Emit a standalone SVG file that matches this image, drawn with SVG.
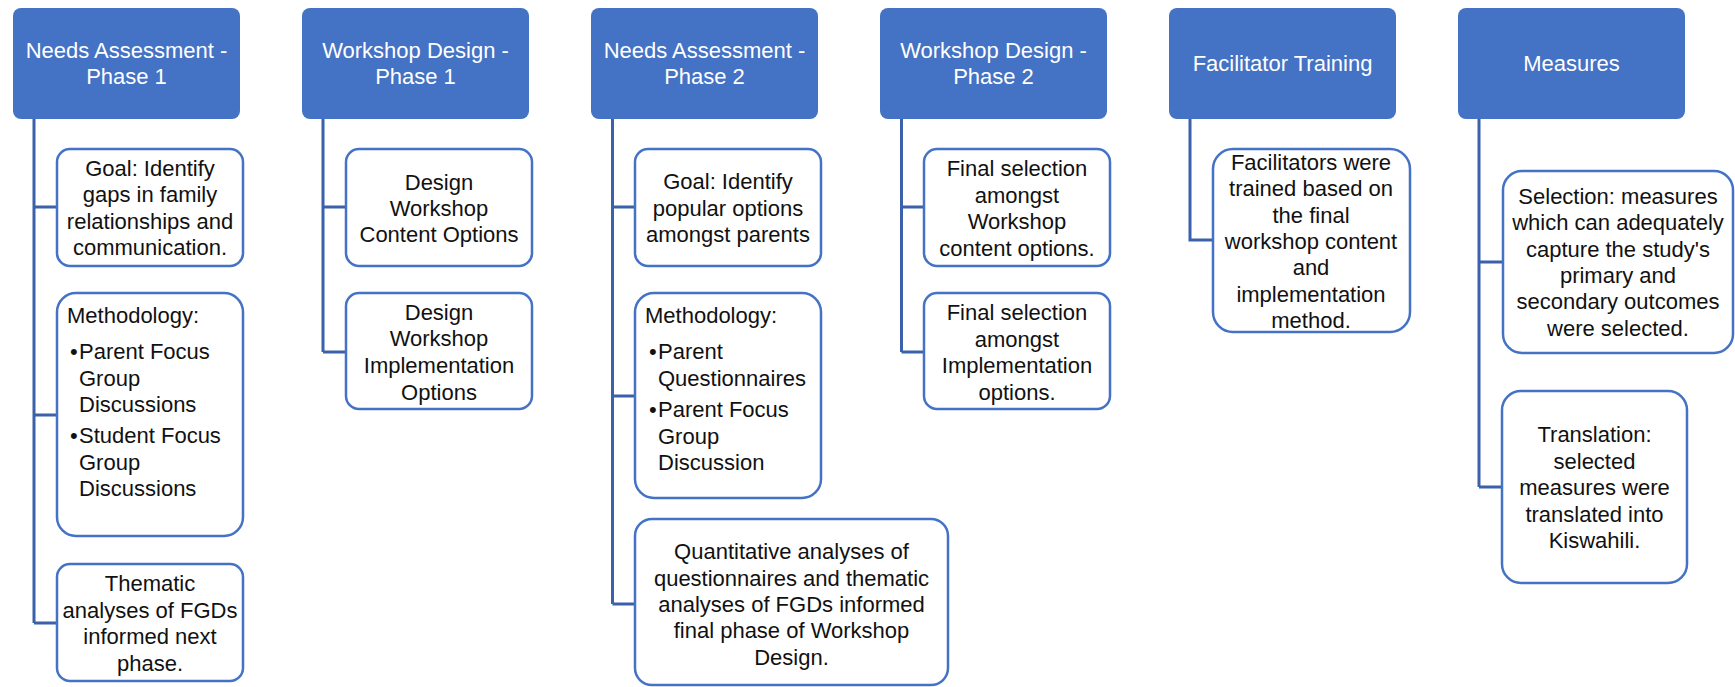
<svg xmlns="http://www.w3.org/2000/svg" width="1735" height="687" viewBox="0 0 1735 687">
<style>
.hdr{fill:#4472C4;}
.box{fill:#ffffff;stroke:#4472C4;stroke-width:2.5;}
.conn{fill:none;stroke:#3A61AA;stroke-width:3;}
text{font-family:"Liberation Sans",Arial,sans-serif;font-size:22px;}
.ht{fill:#ffffff;text-anchor:middle;}
.bt{fill:#111111;text-anchor:middle;}
.lt{fill:#111111;}
</style>
<rect width="1735" height="687" fill="#ffffff"/>
<g id="connectors">
<path class="conn" d="M34,119 V623 M34,207 H57 M34,415 H57 M34,623 H57"/>
<path class="conn" d="M323,119 V352 M323,207 H346 M323,352 H346"/>
<path class="conn" d="M612.5,119 V604 M612.5,207 H635 M612.5,396 H635 M612.5,604 H635"/>
<path class="conn" d="M901.5,119 V352 M901.5,207 H924 M901.5,352 H924"/>
<path class="conn" d="M1190,119 V240 H1213"/>
<path class="conn" d="M1479,119 V487 M1479,262 H1503 M1479,487 H1502"/>
</g>
<g id="h1"><rect class="hdr" x="13" y="8" width="227" height="111" rx="8"/>
<text class="ht" x="126.5" y="57.5">Needs Assessment -</text><text class="ht" x="126.5" y="83.5">Phase 1</text></g>
<g id="h2"><rect class="hdr" x="302" y="8" width="227" height="111" rx="8"/>
<text class="ht" x="415.5" y="57.5">Workshop Design -</text><text class="ht" x="415.5" y="83.5">Phase 1</text></g>
<g id="h3"><rect class="hdr" x="591" y="8" width="227" height="111" rx="8"/>
<text class="ht" x="704.5" y="57.5">Needs Assessment -</text><text class="ht" x="704.5" y="83.5">Phase 2</text></g>
<g id="h4"><rect class="hdr" x="880" y="8" width="227" height="111" rx="8"/>
<text class="ht" x="993.5" y="57.5">Workshop Design -</text><text class="ht" x="993.5" y="83.5">Phase 2</text></g>
<g id="h5"><rect class="hdr" x="1169" y="8" width="227" height="111" rx="8"/>
<text class="ht" x="1282.5" y="71">Facilitator Training</text></g>
<g id="h6"><rect class="hdr" x="1458" y="8" width="227" height="111" rx="8"/>
<text class="ht" x="1571.5" y="71">Measures</text></g>

<g id="na1-goal"><rect class="box" x="57" y="149" width="186" height="117" rx="13"/>
<text class="bt" x="150" y="176">Goal: Identify</text><text class="bt" x="150" y="202.3">gaps in family</text><text class="bt" x="150" y="228.6">relationships and</text><text class="bt" x="150" y="254.9">communication.</text></g>
<g id="na1-method"><rect class="box" x="57" y="293" width="186" height="243" rx="19"/>
<text class="lt" x="67" y="323">Methodology:</text>
<text class="lt" x="70" y="359">•</text><text class="lt" x="79" y="359">Parent Focus</text>
<text class="lt" x="79" y="385.5">Group</text><text class="lt" x="79" y="412">Discussions</text>
<text class="lt" x="70" y="443">•</text><text class="lt" x="79" y="443">Student Focus</text>
<text class="lt" x="79" y="469.5">Group</text><text class="lt" x="79" y="496">Discussions</text></g>
<g id="na1-thematic"><rect class="box" x="57" y="564" width="186" height="117" rx="13"/>
<text class="bt" x="150" y="590.5">Thematic</text><text class="bt" x="150" y="617.5">analyses of FGDs</text><text class="bt" x="150" y="644">informed next</text><text class="bt" x="150" y="671">phase.</text></g>

<g id="wd1-content"><rect class="box" x="346" y="149" width="186" height="117" rx="13"/>
<text class="bt" x="439" y="190">Design</text><text class="bt" x="439" y="215.5">Workshop</text><text class="bt" x="439" y="241.5">Content Options</text></g>
<g id="wd1-impl"><rect class="box" x="346" y="293" width="186" height="116" rx="13"/>
<text class="bt" x="439" y="320">Design</text><text class="bt" x="439" y="346">Workshop</text><text class="bt" x="439" y="373">Implementation</text><text class="bt" x="439" y="400">Options</text></g>

<g id="na2-goal"><rect class="box" x="635" y="149" width="186" height="117" rx="13"/>
<text class="bt" x="728" y="189">Goal: Identify</text><text class="bt" x="728" y="215.5">popular options</text><text class="bt" x="728" y="242">amongst parents</text></g>
<g id="na2-method"><rect class="box" x="635" y="293" width="186" height="205" rx="19"/>
<text class="lt" x="645" y="322.5">Methodology:</text>
<text class="lt" x="649" y="359">•</text><text class="lt" x="658" y="359">Parent</text>
<text class="lt" x="658" y="385.5">Questionnaires</text>
<text class="lt" x="649" y="417">•</text><text class="lt" x="658" y="417">Parent Focus</text>
<text class="lt" x="658" y="443.5">Group</text><text class="lt" x="658" y="470">Discussion</text></g>
<g id="na2-quant"><rect class="box" x="635" y="519" width="313" height="166" rx="17"/>
<text class="bt" x="791.5" y="559">Quantitative analyses of</text><text class="bt" x="791.5" y="585.5">questionnaires and thematic</text><text class="bt" x="791.5" y="611.5">analyses of FGDs informed</text><text class="bt" x="791.5" y="638">final phase of Workshop</text><text class="bt" x="791.5" y="665">Design.</text></g>

<g id="wd2-content"><rect class="box" x="924" y="149" width="186" height="117" rx="13"/>
<text class="bt" x="1017" y="176">Final selection</text><text class="bt" x="1017" y="202.5">amongst</text><text class="bt" x="1017" y="229">Workshop</text><text class="bt" x="1017" y="255.5">content options.</text></g>
<g id="wd2-impl"><rect class="box" x="924" y="293" width="186" height="116" rx="13"/>
<text class="bt" x="1017" y="320">Final selection</text><text class="bt" x="1017" y="346.5">amongst</text><text class="bt" x="1017" y="373">Implementation</text><text class="bt" x="1017" y="400">options.</text></g>

<g id="ft-box"><rect class="box" x="1213" y="149" width="197" height="183" rx="20"/>
<text class="bt" x="1311" y="170">Facilitators were</text><text class="bt" x="1311" y="196.3">trained based on</text><text class="bt" x="1311" y="222.6">the final</text><text class="bt" x="1311" y="248.9">workshop content</text><text class="bt" x="1311" y="275.2">and</text><text class="bt" x="1311" y="301.5">implementation</text><text class="bt" x="1311" y="327.8">method.</text></g>

<g id="m-selection"><rect class="box" x="1503" y="171" width="230" height="182" rx="19"/>
<text class="bt" x="1618" y="204">Selection: measures</text><text class="bt" x="1618" y="230.3">which can adequately</text><text class="bt" x="1618" y="256.6">capture the study's</text><text class="bt" x="1618" y="282.9">primary and</text><text class="bt" x="1618" y="309.2">secondary outcomes</text><text class="bt" x="1618" y="335.5">were selected.</text></g>
<g id="m-translation"><rect class="box" x="1502" y="391" width="185" height="192" rx="19"/>
<text class="bt" x="1594.5" y="442">Translation:</text><text class="bt" x="1594.5" y="468.5">selected</text><text class="bt" x="1594.5" y="495">measures were</text><text class="bt" x="1594.5" y="521.5">translated into</text><text class="bt" x="1594.5" y="548">Kiswahili.</text></g>
</svg>
